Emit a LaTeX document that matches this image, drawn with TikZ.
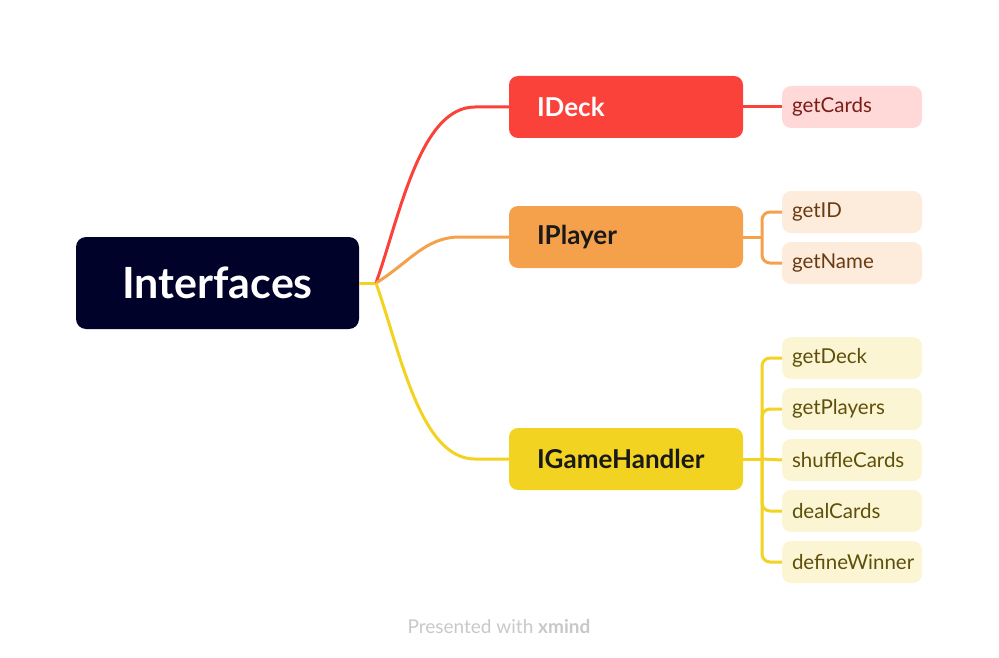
\documentclass[tikz,border=0pt]{standalone}
\usepackage{fontspec}
\setmainfont{Lato}
\definecolor{rootc}{HTML}{000229}
\definecolor{redc}{HTML}{FA423B}
\definecolor{orc}{HTML}{F5A14C}
\definecolor{yelc}{HTML}{F2D321}
\definecolor{redl}{HTML}{FFD9D8}
\definecolor{redt}{HTML}{7B1C17}
\definecolor{orl}{HTML}{FDEBDC}
\definecolor{ort}{HTML}{6A3A10}
\definecolor{yell}{HTML}{FCF5D3}
\definecolor{yelt}{HTML}{5E500A}
\definecolor{footc}{HTML}{C8C8C8}
\begin{document}
\begin{tikzpicture}[x=1pt,y=-1pt,
  rootbox/.style={fill=rootc,rounded corners=10pt,minimum width=283pt,minimum height=92pt,inner sep=0pt,text=white,font=\fontsize{43}{46}\selectfont\bfseries},
  mainbox/.style={rounded corners=9pt,minimum height=62pt,inner xsep=28pt,inner ysep=0pt,text width=178pt,align=left,font=\fontsize{26}{30}\selectfont\bfseries},
  subbox/.style={rounded corners=9pt,minimum height=42pt,inner xsep=10pt,inner ysep=0pt,text width=120pt,align=left,font=\fontsize{20.5}{24}\selectfont},
  link/.style={line width=3pt},
  sublink/.style={line width=3pt,rounded corners=8pt}]
\useasboundingbox (0,0) rectangle (999,658);
\node[rootbox] (root) at (217.5,283) {Interfaces};
\node[mainbox,fill=redc,text=white] (deck) at (626,107) {IDeck};
\node[mainbox,fill=orc,text=black!90] (player) at (626,237) {IPlayer};
\node[mainbox,fill=yelc,text=black!90] (game) at (626,459) {IGameHandler};
\node[subbox,fill=redl,text=redt] (gc) at (852,107) {getCards};
\node[subbox,fill=orl,text=ort] (gid) at (852,212) {getID};
\node[subbox,fill=orl,text=ort] (gn) at (852,263) {getName};
\node[subbox,fill=yell,text=yelt] (gd) at (852,358) {getDeck};
\node[subbox,fill=yell,text=yelt] (gp) at (852,409) {getPlayers};
\node[subbox,fill=yell,text=yelt] (sc) at (852,460) {shuffleCards};
\node[subbox,fill=yell,text=yelt] (dc) at (852,511) {dealCards};
\node[subbox,fill=yell,text=yelt] (dw) at (852,562) {defineWinner};
\coordinate (hub) at (376,283);
\coordinate (pt) at (762,237);
\coordinate (gt) at (762,459);
\draw[link,yelc] (root.east) -- (hub);
\draw[link,redc] (hub) .. controls (400,215) and (420,107) .. (475,107) -- (deck.west);
\draw[link,orc] (hub) .. controls (410,262) and (425,237) .. (460,237) -- (player.west);
\draw[link,yelc] (hub) .. controls (400,351) and (420,459) .. (475,459) -- (game.west);
\draw[link,redc] (deck.east) -- (gc.west);
\draw[link,orc] (player.east) -- (pt);
\draw[sublink,orc] (gid.west) -| (pt);
\draw[sublink,orc] (gn.west) -| (pt);
\draw[link,yelc] (game.east) -- (gt);
\draw[sublink,yelc] (gd.west) -| (gt);
\draw[sublink,yelc] (gp.west) -| (gt);
\draw[sublink,yelc] (sc.west) -- (gt);
\draw[sublink,yelc] (dc.west) -| (gt);
\draw[sublink,yelc] (dw.west) -| (gt);
\node[text=footc,font=\fontsize{19}{22}\selectfont] (foot) at (499,627) {Presented with \textbf{xmind}};
\end{tikzpicture}
\end{document}
